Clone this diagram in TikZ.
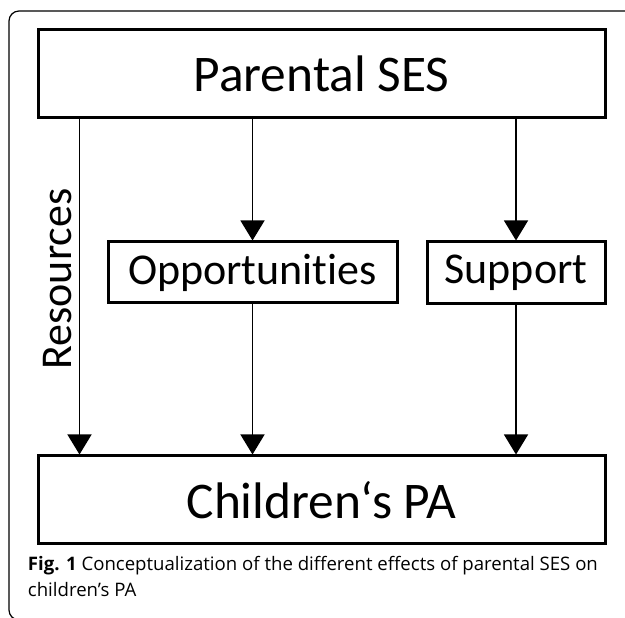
\documentclass[tikz,border=0pt]{standalone}
\usepackage{fontspec}
\setmainfont[Ligatures={NoCommon}]{Carlito}
\newfontfamily\capfont{Open Sans}
\usetikzlibrary{arrows.meta}

\begin{document}
\begin{tikzpicture}[>={Triangle[length=20bp,width=24bp]},line join=miter,
  box/.style={draw,line width=3bp,inner sep=0pt},
  big/.style={font=\fontsize{51.4bp}{60bp}\selectfont},
  mid/.style={font=\fontsize{44bp}{52bp}\selectfont},
  ]

\useasboundingbox (0bp,0bp) rectangle (625bp,618bp);
\clip (0bp,0bp) rectangle (625bp,618bp);

\pgfsetlinewidth{1.3bp}
\pgfsetcolor{black}

% Frame
\draw [line width=1.2bp,rounded corners=10bp] (640bp,607bp) -- (9bp,607bp) -- (9bp,-2bp) -- (40bp,-2bp);

% Node: ses
\node [box,big,minimum width=567bp,minimum height=88bp] (ses) at (321.5bp,544bp) {Parental SES};

% Node: opp
\node [box,mid,minimum width=289bp,minimum height=61bp] (opp) at (252.5bp,345.5bp) {Opportunities};

% Node: sup
\node [box,mid,minimum width=178bp,minimum height=62bp] (sup) at (516bp,345bp) {Support};

% Node: pa
\node [box,big,minimum width=567bp,minimum height=88bp] (pa) at (321.5bp,118bp) {Children‘s PA};

% Edge: ses -> pa
\draw [->] ([xshift=43bp]ses.south west) -- ([xshift=43bp]pa.north west);
\node [mid,rotate=90] (res) at (58bp,339bp) {Resources};

% Edge: ses -> opp
\draw [->] (ses.south -| opp.north) -- (opp.north);

% Edge: ses -> sup
\draw [->] (ses.south -| sup.north) -- (sup.north);

% Edge: opp -> pa
\draw [->] (opp.south) -- (opp.south |- pa.north);

% Edge: sup -> pa
\draw [->] (sup.south) -- (sup.south |- pa.north);

% Caption
\node [anchor=base west,font=\capfont\fontsize{18.6bp}{24bp}\selectfont] (cap1) at (24bp,47bp) {\textbf{Fig. 1} Conceptualization of the different effects of parental SES on};
\node [anchor=base west,font=\capfont\fontsize{18.6bp}{24bp}\selectfont] (cap2) at (24bp,22bp) {children’s PA};

\end{tikzpicture}
\end{document}
